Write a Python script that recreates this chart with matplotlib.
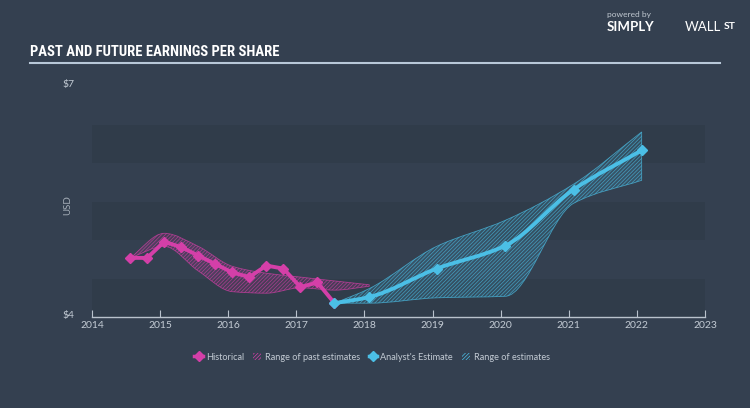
import matplotlib
matplotlib.use("Agg")
from matplotlib import pyplot as plt
from matplotlib import font_manager
from matplotlib.path import Path
from matplotlib.patches import PathPatch, Patch
from matplotlib.lines import Line2D
import numpy as np

# historical EPS (quarterly)
hist_x = [2014.56, 2014.81, 2015.06, 2015.31, 2015.56, 2015.81, 2016.06,
          2016.31, 2016.56, 2016.81, 2017.06, 2017.31, 2017.56]
hist_y = [4.77, 4.77, 4.98, 4.91, 4.80, 4.69, 4.58, 4.52, 4.67, 4.63, 4.39, 4.45, 4.18]

# range of past estimates
past_x = [2014.56, 2015.06, 2015.56, 2016.06, 2016.56, 2017.06, 2017.56, 2018.07]
past_hi = [4.77, 5.09, 4.92, 4.66, 4.57, 4.52, 4.47, 4.42]
past_lo = [4.77, 4.92, 4.60, 4.33, 4.31, 4.38, 4.35, 4.40]

# analyst estimates
est_x = [2017.56, 2018.07, 2019.06, 2020.07, 2021.07, 2022.07]
est_y = [4.18, 4.26, 4.63, 4.93, 5.66, 6.17]
est_hi = [4.18, 4.37, 4.92, 5.26, 5.73, 6.41]
est_lo = [4.18, 4.18, 4.25, 4.27, 5.48, 5.78]

years = list(range(2014, 2024))

BG = '#344050'
BAND = '#303c4a'
MAG = '#d43fa8'
CYAN = '#4bbfe6'
TXT = '#c3cbd4'
HATCH = '/' * 9
SANS = ['Lato', 'DejaVu Sans']

# a narrow face for the title if one is installed
names = {f.name for f in font_manager.fontManager.ttflist}
title_font = 'DejaVu Sans'
title_size = 8.6
for cand in ['Roboto Condensed', 'Liberation Sans Narrow', 'Open Sans Condensed',
             'DejaVu Sans Condensed', 'Noto Sans Condensed']:
    if cand in names:
        title_font = cand
        title_size = 10.5
        break


def slopes(xs, ys):
    # monotone (Fritsch-Carlson) tangents, only used for drawing the curve
    xs = np.asarray(xs, float)
    ys = np.asarray(ys, float)
    d = np.diff(ys) / np.diff(xs)
    m = np.zeros(len(xs))
    m[0], m[-1] = d[0], d[-1]
    for i in range(1, len(xs) - 1):
        if d[i - 1] * d[i] <= 0:
            m[i] = 0
        else:
            h0, h1 = xs[i] - xs[i - 1], xs[i + 1] - xs[i]
            w1, w2 = 2 * h1 + h0, h1 + 2 * h0
            m[i] = (w1 + w2) / (w1 / d[i - 1] + w2 / d[i])
    return m


def segments(xs, ys):
    m = slopes(xs, ys)
    segs = []
    for i in range(len(xs) - 1):
        h = xs[i + 1] - xs[i]
        segs.append([(xs[i], ys[i]),
                     (xs[i] + h / 3, ys[i] + m[i] * h / 3),
                     (xs[i + 1] - h / 3, ys[i + 1] - m[i + 1] * h / 3),
                     (xs[i + 1], ys[i + 1])])
    return segs


def curve_path(xs, ys):
    segs = segments(xs, ys)
    verts = [segs[0][0]]
    codes = [Path.MOVETO]
    for s in segs:
        verts += s[1:]
        codes += [Path.CURVE4] * 3
    return Path(verts, codes)


def band_path(xs, hi, lo):
    up = segments(xs, hi)
    dn = segments(xs, lo)
    verts = [up[0][0]]
    codes = [Path.MOVETO]
    for s in up:
        verts += s[1:]
        codes += [Path.CURVE4] * 3
    verts.append(dn[-1][3])
    codes.append(Path.LINETO)
    for s in reversed(dn):
        verts += [s[2], s[1], s[0]]
        codes += [Path.CURVE4] * 3
    verts.append(up[0][0])
    codes.append(Path.CLOSEPOLY)
    return Path(verts, codes)


def add_range(ax, xs, hi, lo, color):
    ax.add_patch(PathPatch(band_path(xs, hi, lo), facecolor=color, alpha=0.15,
                           lw=0, zorder=1))
    ax.add_patch(PathPatch(band_path(xs, hi, lo), facecolor='none', edgecolor=color,
                           hatch=HATCH, lw=0.6, alpha=0.7, zorder=1))


plt.rcParams['hatch.linewidth'] = 0.5
fig = plt.figure(figsize=(7.5, 4.08), dpi=100, facecolor=BG)
ax = fig.add_axes([0.1227, 0.223, 0.8173, 0.5647])
ax.set_facecolor(BG)
ax.set_xlim(2014, 2023)
ax.set_ylim(4, 7)

for lo, hi in [(4, 4.5), (5, 5.5), (6, 6.5)]:
    ax.axhspan(lo, hi, color=BAND, lw=0, zorder=0)

add_range(ax, past_x, past_hi, past_lo, MAG)
add_range(ax, est_x, est_hi, est_lo, CYAN)

ax.plot(hist_x, hist_y, color=MAG, lw=2.8, marker='D', ms=5, zorder=3)
ax.add_patch(PathPatch(curve_path(est_x, est_y), facecolor='none', edgecolor=CYAN,
                       lw=2.8, zorder=3))
ax.plot(est_x, est_y, ls='none', color=CYAN, marker='D', ms=5, zorder=4)

for s in ['top', 'right', 'left']:
    ax.spines[s].set_visible(False)
ax.spines['bottom'].set_color('#b9c2cc')
ax.spines['bottom'].set_linewidth(1)
ax.set_yticks([])
ax.set_xticks(years)
ax.set_xticklabels([str(y) for y in years])
ax.tick_params(axis='x', direction='in', length=5, color='#b9c2cc', labelcolor=TXT,
               labelsize=7.5, pad=3)
for lab in ax.get_xticklabels():
    lab.set_family(SANS)

ax.text(2013.65, 7.03, '$7', color=TXT, fontsize=7.5, ha='center', va='center', family=SANS)
ax.text(2013.65, 4.02, '$4', color=TXT, fontsize=7.5, ha='center', va='center', family=SANS)
fig.text(0.0907, 0.4975, 'USD', rotation=90, color='#a6afb9', fontsize=7,
         ha='center', va='center', family=SANS)

# title
fig.text(0.04, 0.872, 'PAST AND FUTURE EARNINGS PER SHARE', color='white',
         fontsize=title_size, fontweight='bold', ha='left', va='center',
         family=[title_font, 'DejaVu Sans'])
fig.add_artist(Line2D([0.04, 0.96], [0.8456, 0.8456], color='#b8c8d8', lw=1.5))

# logo
fig.text(0.809, 0.965, 'powered by', color='#c0c8d0', fontsize=6, ha='left', va='center',
         family=SANS)
fig.text(0.809, 0.933, 'SIMPLY', color='white', fontsize=9.5, fontweight='bold',
         ha='left', va='center', family=SANS)
fig.text(0.913, 0.933, 'WALL', color='white', fontsize=9.5, ha='left', va='center',
         family=SANS)
fig.text(0.965, 0.936, 'ST', color='white', fontsize=7.5, fontweight='bold',
         ha='left', va='center', family=SANS)

# legend
handles = [
    Line2D([], [], color=MAG, lw=2.5, marker='D', ms=5),
    Patch(facecolor='none', edgecolor=MAG, hatch=HATCH, lw=0),
    Line2D([], [], color=CYAN, lw=2.5, marker='D', ms=5),
    Patch(facecolor='none', edgecolor=CYAN, hatch=HATCH, lw=0),
]
labels = ['Historical', 'Range of past estimates', "Analyst's Estimate", 'Range of estimates']
fig.legend(handles, labels, loc='center', bbox_to_anchor=(0.496, 0.125), ncol=4,
           frameon=False, handlelength=0.9, handletextpad=0.35, columnspacing=1.0,
           labelcolor=TXT, prop={'family': SANS, 'size': 6.6})

fig.savefig('out.png', dpi=100, facecolor=BG)
